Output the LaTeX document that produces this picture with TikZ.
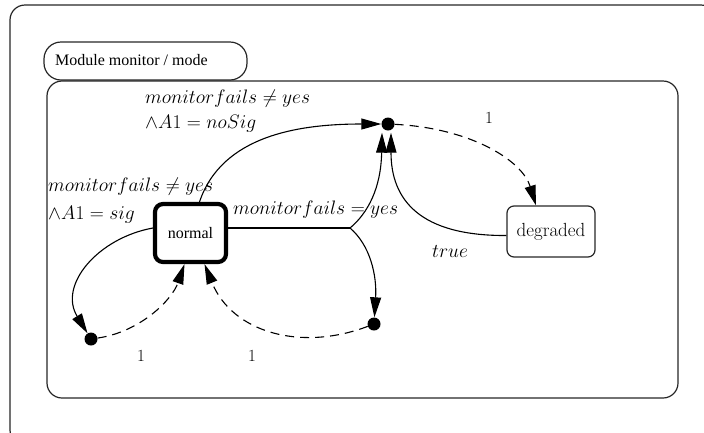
\RequirePackage{fix-cm}
\documentclass[tikz,border=0pt]{standalone}
\usepackage[no-math]{fontspec}
\setmainfont{Liberation Serif}
\newfontfamily\cmfont{Latin Modern Roman}
\usetikzlibrary{arrows.meta,calc}

\tikzset{
  frame/.style={draw=black!85, line width=1.2pt, rounded corners=15pt, inner sep=0pt},
  statebox/.style={draw=black!85, line width=1.2pt, rounded corners=7pt, inner sep=0pt,
    minimum width=88pt, minimum height=51pt, font=\cmfont\fontsize{19}{22}\selectfont},
  initbox/.style={draw=black, line width=4.2pt, rounded corners=8pt, inner sep=0pt,
    minimum width=71pt, minimum height=58pt, font=\fontsize{16}{19}\selectfont},
  junction/.style={circle, fill=black, inner sep=0pt, minimum size=13pt},
  edge/.style={line width=1.1pt, -{Triangle[length=20pt,width=11pt]}},
  dashedge/.style={edge, dash pattern=on 9pt off 6pt},
  guard/.style={inner sep=0pt, anchor=base west, font=\fontsize{19.5}{23}\selectfont},
  weight/.style={inner sep=0pt, font=\cmfont\fontsize{17}{20}\selectfont},
}

\begin{document}
\begin{tikzpicture}[x=1pt,y=-1pt]
  \clip (0,0) rectangle (704,432);

  % enclosing frames
  \node[frame, minimum width=706pt, minimum height=440pt] (outer) at (363,225) {};
  \node[frame, minimum width=631pt, minimum height=317pt] (region) at (362.5,239.5) {};
  \node[frame, rounded corners=17pt, minimum width=203pt, minimum height=38pt] (title) at (145.5,61) {};
  \node[anchor=west, inner sep=0pt, font=\fontsize{16}{19}\selectfont] (titletext) at (55,60) {Module monitor / mode};

  % states
  \node[initbox] (normal) at (190.5,233) {normal};
  \node[statebox] (degraded) at (551,231.5) {degraded};

  % junction points
  \node[junction] (jtop) at (388,124) {};
  \node[junction] (jleft) at (91,339) {};
  \node[junction] (jright) at (374,324) {};
  \coordinate (fork) at (350,228);

  % solid transitions
  \draw[edge] ($(normal.north)+(9,0)$) .. controls (222,135) and (300,124) .. (jtop.west);
  \draw[edge] ($(normal.west)+(0,-5)$) .. controls (98,238) and (58,285) .. (jleft);
  \draw[line width=1.1pt] (normal.east |- fork) -- (fork);
  \draw[edge] (fork) .. controls (368,213) and (381,188) .. ($(jtop.south)+(-6,2)$);
  \draw[edge] (fork) .. controls (370,245) and (377,275) .. (jright);
  \draw[edge] ($(degraded.west)+(0,4)$) .. controls (420,236) and (391,200) .. ($(jtop.south)+(3,2)$);

  % dashed transitions
  \draw[dashedge] (jtop) .. controls (470,128) and (522,160) .. ($(degraded.north)+(-15,0)$);
  \draw[dashedge] (jleft) .. controls (140,332) and (172,300) .. ($(normal.south)+(-6,0)$);
  \draw[dashedge] (jright) .. controls (300,352) and (232,332) .. ($(normal.south)+(14,0)$);

  % guards
  \node[guard] (g1) at (145,103) {$monitorfails \neq yes$};
  \node[guard] (g2) at (145,128) {$\wedge A1 = noSig$};
  \node[guard] (g3) at (48,191) {$monitorfails \neq yes$};
  \node[guard] (g4) at (48,219) {$\wedge A1 = sig$};
  \node[guard] (g5) at (233,214) {$monitorfails = yes$};
  \node[guard] (g6) at (432,257) {$true$};

  % weights
  \node[weight] (w1) at (489,118) {1};
  \node[weight] (w2) at (141,356) {1};
  \node[weight] (w3) at (252,356) {1};
\end{tikzpicture}
\end{document}
